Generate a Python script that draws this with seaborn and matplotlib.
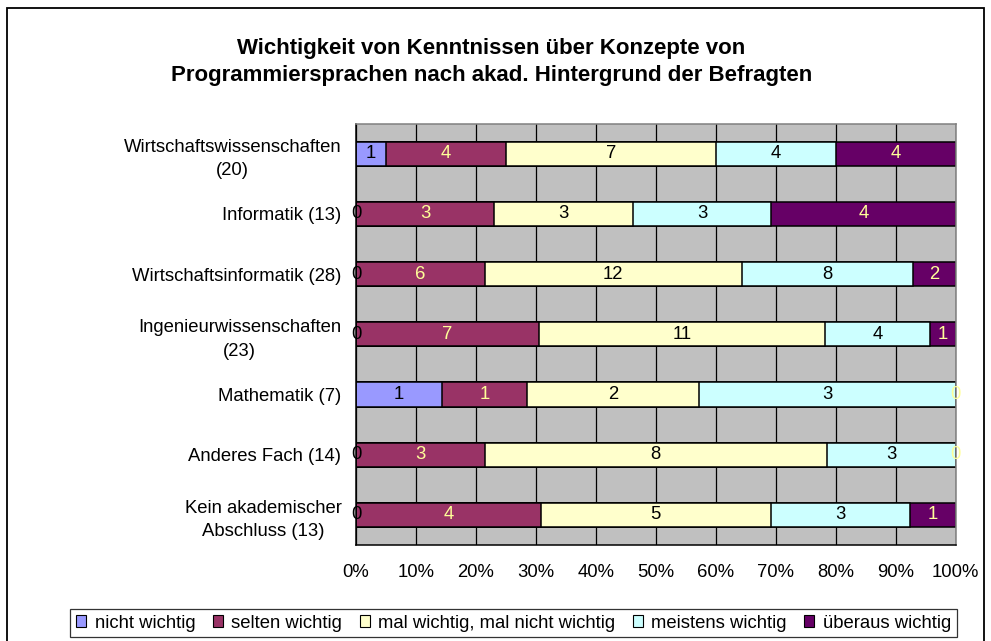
import numpy as np
import pandas as pd
import seaborn as sns
import matplotlib.pyplot as plt
from matplotlib.patches import Patch, Rectangle

kategorien = [
    "Wirtschaftswissenschaften\n(20)",
    "Informatik (13)",
    "Wirtschaftsinformatik (28)",
    "Ingenieurwissenschaften\n(23)",
    "Mathematik (7)",
    "Anderes Fach (14)",
    "Kein akademischer\nAbschluss (13)",
]
stufen = ["nicht wichtig", "selten wichtig", "mal wichtig, mal nicht wichtig",
          "meistens wichtig", "überaus wichtig"]

nicht_wichtig = [1, 0, 0, 0, 1, 0, 0]
selten_wichtig = [4, 3, 6, 7, 1, 3, 4]
mal_wichtig = [7, 3, 12, 11, 2, 8, 5]
meistens_wichtig = [4, 3, 8, 4, 3, 3, 3]
ueberaus_wichtig = [4, 4, 2, 1, 0, 0, 1]

farben = ["#9999FF", "#993366", "#FFFFCC", "#CCFFFF", "#660066"]
textfarben = ["black", "#FFFF99", "black", "black", "#FFFF99"]

df = pd.DataFrame(
    np.column_stack([nicht_wichtig, selten_wichtig, mal_wichtig,
                     meistens_wichtig, ueberaus_wichtig]),
    index=kategorien, columns=stufen)
prozent = df.div(df.sum(axis=1), axis=0) * 100
kumuliert = prozent.cumsum(axis=1)

sns.set_style("white")
plt.rcParams["font.family"] = ["Liberation Sans", "DejaVu Sans"]
for key in ["text.color", "xtick.color", "ytick.color", "axes.labelcolor"]:
    plt.rcParams[key] = "black"

fs = 13.3

fig = plt.figure(figsize=(9.91, 6.41), dpi=100)
ax = fig.add_axes([356 / 991, 96 / 641, 599.7 / 991, 421.5 / 641])
ax.set_facecolor("#C0C0C0")

# gestapelt: von rechts nach links übereinander zeichnen
for k in reversed(range(len(stufen))):
    sns.barplot(x=kumuliert.iloc[:, k].values, y=kategorien, orient="h",
                color=farben[k], saturation=1, width=0.4,
                edgecolor="black", linewidth=1.1, ax=ax, zorder=2)

for i, kat in enumerate(kategorien):
    links = 0
    for k, stufe in enumerate(stufen):
        breite = prozent.loc[kat, stufe]
        ax.text(links + breite / 2, i, str(df.loc[kat, stufe]),
                ha="center", va="center", color=textfarben[k],
                fontsize=fs, zorder=3)
        links += breite

ax.set_xlim(0, 100)
ax.set_ylim(len(kategorien) - 0.5, -0.5)
ax.set_xticks(range(0, 101, 10))
ax.set_xticklabels([f"{v}%" for v in range(0, 101, 10)], fontsize=fs)
ax.set_yticks(range(len(kategorien)))
ax.set_yticklabels(kategorien, fontsize=fs, linespacing=1.5)
for lab in ax.get_yticklabels():
    lab.set_multialignment("center")
ax.set_yticks(np.arange(-0.5, len(kategorien), 1), minor=True)
ax.tick_params(axis="y", which="major", length=0, pad=10.5)
ax.tick_params(axis="y", which="minor", length=5, width=1, direction="out", color="black")
ax.tick_params(axis="x", length=5, width=1, direction="out", color="black", pad=9)
ax.set_xlabel("")
ax.set_ylabel("")

ax.grid(axis="x", color="black", linewidth=0.9, zorder=1)
ax.set_axisbelow(True)
for s in ["left", "bottom"]:
    ax.spines[s].set_color("black")
    ax.spines[s].set_linewidth(1.1)
for s in ["top", "right"]:
    ax.spines[s].set_color("#808080")
    ax.spines[s].set_linewidth(1.1)

fig.text(0.496, 1 - 62 / 641,
         "Wichtigkeit von Kenntnissen über Konzepte von\n"
         "Programmiersprachen nach akad. Hintergrund der Befragten",
         ha="center", va="center", fontsize=16, fontweight="bold",
         linespacing=1.4)

griffe = [Patch(facecolor=f, edgecolor="black", linewidth=0.8) for f in farben]
leg = fig.legend(griffe, stufen, loc="center", ncol=5,
                 bbox_to_anchor=(513.5 / 991, 1 - 623 / 641),
                 fontsize=fs, frameon=True, fancybox=False,
                 handlelength=0.55, handleheight=0.55, handletextpad=0.45,
                 columnspacing=0.95, borderpad=0.3, borderaxespad=0)
leg.get_frame().set_edgecolor("black")
leg.get_frame().set_linewidth(0.9)

fig.patches.append(Rectangle((7 / 991, -0.05), 977 / 991, 1.05 - 8 / 641,
                             transform=fig.transFigure, fill=False,
                             edgecolor="black", linewidth=1.3))

fig.savefig("out.png", dpi=100)
